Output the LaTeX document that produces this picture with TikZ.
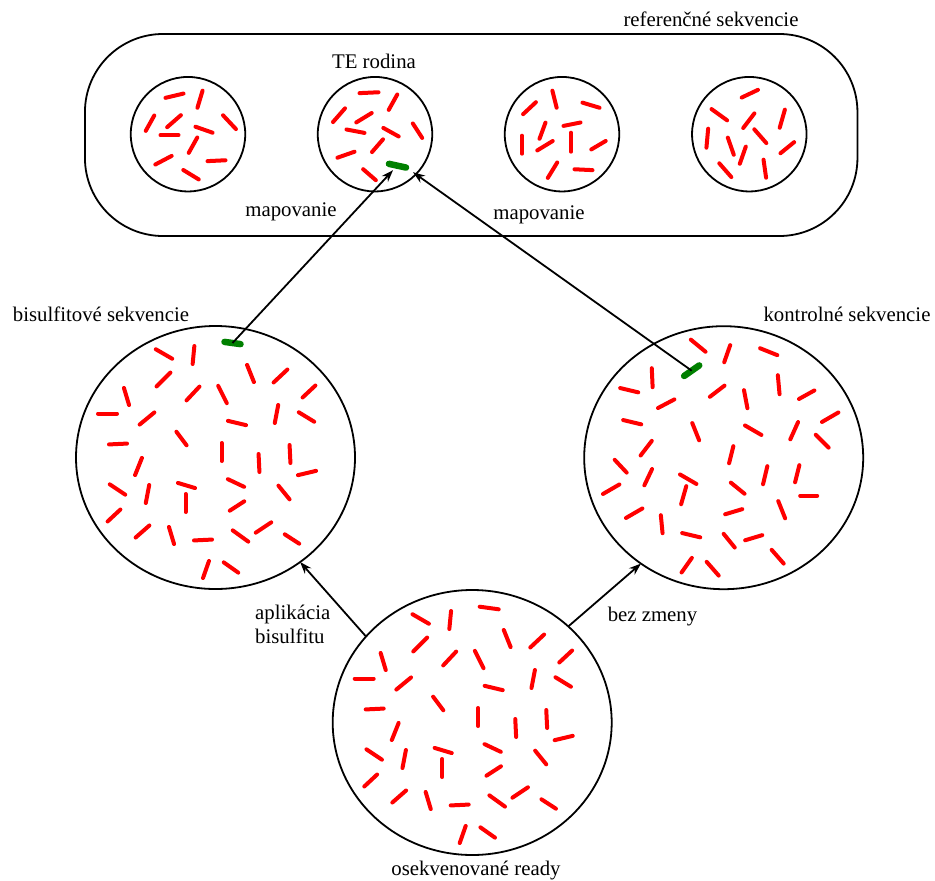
\documentclass[tikz,border=0pt]{standalone}
\usepackage{fontspec}
\setmainfont{Liberation Serif}
\usetikzlibrary{shapes.geometric,arrows.meta}
\definecolor{segred}{RGB}{255,0,0}
\definecolor{hitgreen}{RGB}{0,128,0}

% read fragments scattered in a large pool (relative to the pool centre)
\newcommand\poolA{%
-61/-109/-42/-98, -21/-113/-23/-92, 31/-94/39/-74, -44/-86/-60/-70,
-15/-72/-30/-56, 2/-73/12/-53, 73/-89/57/-74, 101/-73/86/-59,
-92/-71/-86/-51, -119/-44/-97/-44, -60/-46/-77/-32, 11/-37/32/-32,
63/-54/59/-33, 82/-46/100/-35, -40/-27/-28/-11, -108/-13/-87/-14,
6/-16/6/5, 43/-5/44/16, 74/-14/75/7, -73/-1/-81/19, 81/18/102/13,
-107/26/-89/38, -66/26/-70/47, -39/25/-19/31, -30/35/-30/56,
11/21/30/30, 62/27/75/43, 30/43/13/54, -94/51/-109/65, -65/67/-81/81,
-47/68/-41/88, -23/83/-2/82, 16/72/34/85, 57/64/39/76, 68/76/85/87,
-6/102/-13/122, 7/104/24/116}
\newcommand\poolB{%
-34/-119/-17/-105, 7/-114/0/-94, 35/-110/55/-102, -72/-91/-71/-69,
-105/-70/-84/-65, 54/-84/56/-62, 2/-73/-15/-60, 20/-69/24/-48,
92/-68/74/-58, -67/-49/-48/-59, -102/-38/-81/-33, 116/-46/97/-35,
-32/-36/-24/-16, 20/-33/39/-22, 75/-37/66/-17, 91/-24/106/-9,
-71/-18/-84/-1, 10/-13/5/7, -110/1/-96/16, -71/10/-80/29,
-45/16/-26/27, 44/7/39/28, 76/6/71/26, -103/26/-122/37, -37/27/-43/48,
6/24/22/37, 75/38/95/38, -80/50/-99/61, 20/51/0/57, 54/42/62/62,
-63/56/-61/77, -43/75/-22/80, -1/75/12/91, 40/77/20/83, 47/91/61/107,
-31/99/-43/116, -18/103/-4/119}
% fragments inside the four reference families
\newcommand\famA{%
-24/-36/-3/-41, 15/-45/9/-25, -33/-20/-43/-2, -6/-20/-22/-6, 34/-20/49/-4,
6/-8/26/-1, -29/1/-8/1, 10/2/0/20, -15/21/-34/31, 18/27/39/26, -6/35/12/46}
\newcommand\famB{%
-17/-41/5/-42, 23/-41/13/-23, -29/-27/-43/-11, -2/-22/-20/-11, -30/-5/-9/-1,
7/-7/25/3, 37/-12/48/5, 9/4/-4/19, -19/17/-39/24, -13/34/2/47}
\newcommand\famC{%
-10/-45/-5/-25, -25/-33/-40/-19, 19/-32/39/-26, -16/-13/-23/6, 0/-8/20/-12,
-40/0/-40/21, 9/-3/9/19, -8/6/-26/17, 45/6/28/16, -4/27/-15/45, 11/35/32/36}
\newcommand\famD{%
-9/-36/10/-45, -39/-26/-21/-13, 36/-26/30/-5, 6/-22/-7/-5, -41/-7/-43/15,
4/-6/18/10, -22/2/-15/22, -3/11/-10/31, 46/7/30/20, -31/28/-17/44, 14/24/17/45}

\begin{document}
\begin{tikzpicture}[x=1pt,y=-1pt,
  seg/.style={segred, line width=4pt, line cap=round, shorten <=1.5pt, shorten >=1.5pt},
  hit/.style={hitgreen, line width=6.5pt, line cap=round, shorten <=3pt, shorten >=3pt},
  pool/.style={draw, line width=1.8pt, ellipse, inner sep=0pt, outer sep=0pt,
               minimum width=279pt},
  family/.style={draw, line width=1.8pt, circle, minimum size=114.5pt,
                 inner sep=0pt, outer sep=0pt},
  lbl/.style={font=\fontsize{20.8}{24}\selectfont, inner sep=0pt, anchor=base},
  link/.style={line width=1.8pt, -{Stealth[length=12pt,width=8.5pt]}}
]
\useasboundingbox (0,0) rectangle (935,881);

% reference sequences container with its four TE families
\node[draw, line width=1.8pt, rounded corners=78pt, minimum width=772.5pt,
      minimum height=202pt, inner sep=0pt, outer sep=0pt] (refs) at (471.2,135) {};
\node[family] (fam1) at (188,134.2) {};
\node[family] (fam2) at (375,134.2) {};
\node[family] (fam3) at (562,134.2) {};
\node[family] (fam4) at (749.3,134.2) {};

% the three read pools
\node[pool, minimum height=263pt] (bis) at (215.5,457.5) {};
\node[pool, minimum height=263pt] (ctl) at (723.7,457.7) {};
\node[pool, minimum height=265pt] (reads) at (472.2,722.5) {};

% fragments
\begin{scope}[shift={(188,134.2)}]
  \foreach \ax/\ay/\bx/\by in \famA {\draw[seg] (\ax,\ay) -- (\bx,\by);}
\end{scope}
\begin{scope}[shift={(375,134.2)}]
  \foreach \ax/\ay/\bx/\by in \famB {\draw[seg] (\ax,\ay) -- (\bx,\by);}
  \draw[hit] (11,29) -- (34,34);
  \coordinate (tipL) at (18,36);
  \coordinate (tipR) at (38,38);
\end{scope}
\begin{scope}[shift={(562,134.2)}]
  \foreach \ax/\ay/\bx/\by in \famC {\draw[seg] (\ax,\ay) -- (\bx,\by);}
\end{scope}
\begin{scope}[shift={(749.3,134.2)}]
  \foreach \ax/\ay/\bx/\by in \famD {\draw[seg] (\ax,\ay) -- (\bx,\by);}
\end{scope}

\begin{scope}[shift={(472.2,722.5)}]
  \foreach \ax/\ay/\bx/\by in \poolA {\draw[seg] (\ax,\ay) -- (\bx,\by);}
  \draw[seg] (6,-116) -- (28,-113);
\end{scope}
\begin{scope}[shift={(215.5,457.5)}]
  \foreach \ax/\ay/\bx/\by in \poolA {\draw[seg] (\ax,\ay) -- (\bx,\by);}
  \draw[hit] (6,-116) -- coordinate (bisHit) (28,-113);
\end{scope}
\begin{scope}[shift={(723.7,457.7)}]
  \foreach \ax/\ay/\bx/\by in \poolB {\draw[seg] (\ax,\ay) -- (\bx,\by);}
  \draw[hit] (-42,-80) -- coordinate (ctlHit) (-22,-94);
\end{scope}

% labels
\node[lbl] (refLbl) at (711,26.5) {referenčné sekvencie};
\node[lbl] (teLbl) at (374,68) {TE rodina};
\node[lbl] (mapL) at (291,216) {mapovanie};
\node[lbl] (mapR) at (539,219) {mapovanie};
\node[lbl] (bisLbl) at (101,321.7) {bisulfitové sekvencie};
\node[lbl] (ctlLbl) at (847,321.7) {kontrolné sekvencie};
\node[lbl, anchor=base west, align=left] (bsfLbl) at (255,643.3) {aplikácia\\bisulfitu};
\node[lbl] (bezLbl) at (652.5,621) {bez zmeny};
\node[lbl] (readsLbl) at (476,875) {osekvenované ready};

% connectors
\draw[link] (bisHit) -- (tipL);
\draw[link] (ctlHit) -- (tipR);
\draw[link] (reads.141) -- (bis.-51);
\draw[link] (reads.45) -- (ctl.232);
\end{tikzpicture}
\end{document}
